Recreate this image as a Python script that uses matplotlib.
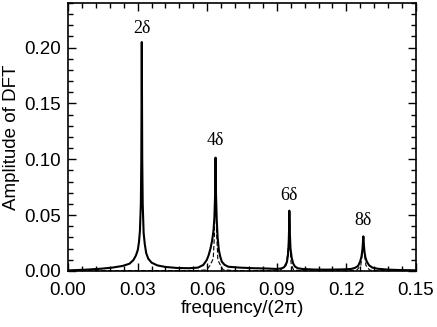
import matplotlib
matplotlib.use("Agg")
import matplotlib.pyplot as plt
from matplotlib.ticker import MultipleLocator, FormatStrFormatter

# values (frequency/(2 pi), amplitude)
freq_solid = [0.000, 0.008, 0.014, 0.019, 0.0235, 0.0265, 0.0282, 0.0293, 0.0301, 0.0306,
              0.0310, 0.0314, 0.0316, 0.0318, 0.0320, 0.0322, 0.0326, 0.0331, 0.0337, 0.0346,
              0.0360, 0.0385, 0.042, 0.047, 0.052, 0.056,
              0.0583, 0.0598, 0.0606, 0.0614, 0.0621, 0.0627, 0.0631, 0.0634, 0.0636, 0.0638,
              0.0641, 0.0645, 0.0650, 0.0656, 0.0663, 0.0675, 0.0691, 0.0741, 0.080, 0.086,
              0.0900, 0.0920, 0.0930, 0.0938, 0.0944, 0.0948, 0.0951, 0.0953, 0.0954, 0.0956,
              0.0959, 0.0964, 0.0970, 0.0978, 0.099, 0.101, 0.106, 0.112, 0.118,
              0.1220, 0.1237, 0.1250, 0.1259, 0.1265, 0.1269, 0.1271, 0.1273, 0.1275, 0.1278,
              0.1282, 0.1288, 0.1298, 0.1312, 0.1335, 0.138, 0.144, 0.150]
amp_solid = [0.0005, 0.0012, 0.0020, 0.0030, 0.0045, 0.0065, 0.0098, 0.0140, 0.019, 0.026,
             0.036, 0.060, 0.100, 0.205, 0.100, 0.060, 0.034, 0.024, 0.016, 0.0110,
             0.0075, 0.0050, 0.0036, 0.0027, 0.0025, 0.0030,
             0.0054, 0.0098, 0.0140, 0.020, 0.027, 0.036, 0.048, 0.068, 0.1015, 0.068,
             0.046, 0.030, 0.019, 0.013, 0.0083, 0.0055, 0.0038, 0.0030, 0.0025, 0.0022,
             0.0018, 0.0023, 0.0032, 0.0050, 0.0085, 0.0140, 0.024, 0.038, 0.054, 0.035,
             0.020, 0.0120, 0.0070, 0.0040, 0.0025, 0.0018, 0.0013, 0.0012, 0.0014,
             0.0018, 0.0028, 0.0045, 0.0083, 0.0130, 0.019, 0.025, 0.031, 0.024, 0.017,
             0.0120, 0.0083, 0.0050, 0.0030, 0.0020, 0.0012, 0.0008, 0.0006]

freq_dash = [0.000, 0.020, 0.040, 0.056, 0.0598, 0.0612, 0.0626, 0.0631, 0.0634, 0.0636,
             0.0638, 0.0641, 0.0646, 0.0660, 0.0669, 0.072, 0.090, 0.0917, 0.0930, 0.0942,
             0.0950, 0.0954, 0.0957, 0.0962, 0.0972, 0.100, 0.122, 0.1245, 0.1262, 0.1269,
             0.1273, 0.1277, 0.1284, 0.1300, 0.132, 0.150]
amp_dash = [0.0003, 0.0004, 0.0004, 0.0004, 0.0010, 0.0050, 0.011, 0.032, 0.066, 0.1000,
            0.066, 0.032, 0.0098, 0.0040, 0.0010, 0.0004, 0.0004, 0.0010, 0.0040, 0.0075,
            0.022, 0.052, 0.022, 0.0060, 0.0010, 0.0004, 0.0004, 0.0008, 0.0050, 0.017,
            0.030, 0.017, 0.0050, 0.0008, 0.0004, 0.0003]

peak_labels = ["2\u03b4", "4\u03b4", "6\u03b4", "8\u03b4"]
peak_label_x = [0.0318, 0.0636, 0.0954, 0.1273]
peak_label_y = [0.217, 0.117, 0.068, 0.045]

plt.rcParams['font.family'] = ['Liberation Sans', 'DejaVu Sans']

fig = plt.figure(figsize=(4.37, 3.27), dpi=100)
ax = fig.add_axes([0.1556, 0.1713, 0.7964, 0.8196])

ax.plot(freq_dash, amp_dash, color="black", lw=0.8, ls=(0, (4, 2)))
ax.plot(freq_solid, amp_solid, color="black", lw=1.5)

for lab, x, y in zip(peak_labels, peak_label_x, peak_label_y):
    ax.text(x, y, lab, ha="center", va="center", fontsize=13,
            family=['Liberation Serif', 'DejaVu Serif'])

ax.set_xlim(0, 0.15)
ax.set_ylim(0, 0.24)
ax.xaxis.set_major_locator(MultipleLocator(0.03))
ax.xaxis.set_minor_locator(MultipleLocator(0.006))
ax.yaxis.set_major_locator(MultipleLocator(0.05))
ax.yaxis.set_minor_locator(MultipleLocator(0.01))
ax.xaxis.set_major_formatter(FormatStrFormatter("%.2f"))
ax.yaxis.set_major_formatter(FormatStrFormatter("%.2f"))

ax.tick_params(which="both", direction="in", top=True, right=True, labelsize=13.5, width=1.0)
ax.tick_params(which="major", length=6, pad=5)
ax.tick_params(axis="x", which="major", pad=8)
ax.tick_params(which="minor", length=3.5)
for s in ax.spines.values():
    s.set_linewidth(1.2)

ax.set_xlabel("frequency/(2\u03c0)", fontsize=13.5, labelpad=1)
ax.set_ylabel("Amplitude of DFT", fontsize=13.5, labelpad=3)

fig.savefig("out.png", dpi=100)
